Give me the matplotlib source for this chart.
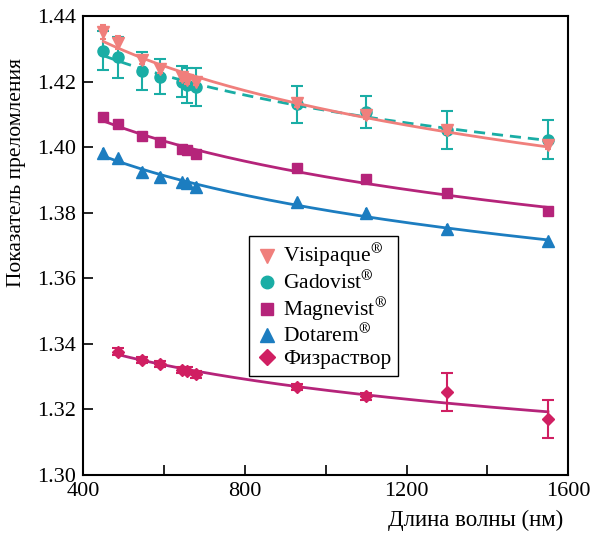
import numpy as np
import matplotlib
matplotlib.use('Agg')
import matplotlib.pyplot as plt
from matplotlib.lines import Line2D

# wavelengths, nm
wl = [450, 486, 546, 589, 644, 656, 680, 930, 1100, 1300, 1550]
wl_phys = [486, 546, 589, 644, 656, 680, 930, 1100, 1300, 1550]

# refractive indices
visipaque = [1.4352, 1.4319, 1.4266, 1.4238, 1.4215, 1.4205, 1.4200, 1.4134, 1.4099, 1.4051, 1.4007]
visipaque_err = [0.0022, 0.0020, 0.0012, 0.0012, 0.0012, 0.0012, 0.0012, 0.0012, 0.0012, 0.0012, 0.0012]
gadovist = [1.4294, 1.4274, 1.4233, 1.4215, 1.4200, 1.4188, 1.4182, 1.4130, 1.4106, 1.4053, 1.4023]
gadovist_err = [0.0060, 0.0062, 0.0058, 0.0053, 0.0048, 0.0054, 0.0058, 0.0055, 0.0049, 0.0058, 0.0059]
magnevist = [1.4092, 1.4071, 1.4033, 1.4017, 1.3995, 1.3990, 1.3980, 1.3936, 1.3904, 1.3860, 1.3804]
magnevist_err = [0.0008] * 11
dotarem = [1.3982, 1.3966, 1.3924, 1.3909, 1.3893, 1.3891, 1.3879, 1.3832, 1.3800, 1.3750, 1.3713]
dotarem_err = [0.0014] * 11
physio = [1.3376, 1.3351, 1.3338, 1.3320, 1.3318, 1.3307, 1.3268, 1.3240, 1.3253, 1.3172]
physio_err = [0.0010, 0.0010, 0.0010, 0.0010, 0.0010, 0.0010, 0.0010, 0.0010, 0.0058, 0.0058]

plt.rcParams['font.family'] = ['Liberation Serif', 'DejaVu Serif']
plt.rcParams['mathtext.fontset'] = 'stix'
plt.rcParams['font.size'] = 16


def disp_fit(x, y, xs):
    # least-squares fit n = A + B*ln(lambda)
    coef = np.polyfit(np.log(x), y, 1)
    return np.polyval(coef, np.log(xs))


fig = plt.figure(figsize=(5.9, 5.33), dpi=100)
ax = fig.add_axes([0.141, 0.109, 0.822, 0.861])

c_vis = '#f07f7c'
c_gad = '#1aada5'
c_mag = '#b5247a'
c_dot = '#1c7dc0'
c_phy = '#d01f62'

xs = np.linspace(450, 1550, 200)
xs_p = np.linspace(486, 1550, 200)

# fit curves
ax.plot(xs, disp_fit(wl, magnevist, xs), color=c_mag, lw=2.0, zorder=2)
ax.plot(xs, disp_fit(wl, dotarem, xs), color=c_dot, lw=2.0, zorder=2)
ax.plot(xs_p, disp_fit(wl_phys, physio, xs_p), color=c_mag, lw=2.0, zorder=2)
ax.plot(xs, disp_fit(wl, gadovist, xs), color=c_gad, lw=2.0, ls=(0, (4, 2.5)), zorder=2)
ax.plot(xs, disp_fit(wl, visipaque, xs), color=c_vis, lw=2.0, zorder=4)

ek = dict(elinewidth=1.5, capthick=1.5, ls='none')
ax.errorbar(wl, magnevist, yerr=magnevist_err, fmt='s', color=c_mag, ms=7, capsize=0, zorder=3, **ek)
ax.errorbar(wl, dotarem, yerr=dotarem_err, fmt='^', color=c_dot, ms=8, capsize=0, zorder=3, **ek)
ax.errorbar(wl_phys, physio, yerr=physio_err, fmt='D', color=c_phy, ms=6.5, capsize=4, zorder=3, **ek)
ax.errorbar(wl, gadovist, yerr=gadovist_err, fmt='o', color=c_gad, ms=8, capsize=4, zorder=3, **ek)
ax.errorbar(wl, visipaque, yerr=visipaque_err, fmt='v', color=c_vis, ms=8.5, capsize=2, zorder=5, **ek)

ax.set_xlim(400, 1600)
ax.set_ylim(1.30, 1.44)
ax.set_xticks([400, 600, 800, 1000, 1200, 1400, 1600])
ax.set_xticklabels(['400', '', '800', '', '1200', '', '1600'])
ax.set_yticks(np.arange(1.30, 1.4401, 0.02))
ax.set_yticklabels(['%.2f' % v for v in np.arange(1.30, 1.4401, 0.02)])
ax.tick_params(direction='in', length=7, width=1.2, labelsize=16, pad=5)
for s in ax.spines.values():
    s.set_linewidth(1.5)

ax.set_xlabel('Длина волны (нм)', fontsize=16.5, ha='right')
ax.xaxis.set_label_coords(0.99, -0.075)
ax.set_ylabel('Показатель преломления', fontsize=15.5)
ax.yaxis.set_label_coords(-0.118, 0.66)

handles = [
    Line2D([], [], ls='none', marker='v', color=c_vis, ms=10),
    Line2D([], [], ls='none', marker='o', color=c_gad, ms=9),
    Line2D([], [], ls='none', marker='s', color=c_mag, ms=8),
    Line2D([], [], ls='none', marker='^', color=c_dot, ms=10),
    Line2D([], [], ls='none', marker='D', color=c_phy, ms=8),
]
labels = [r'Visipaque$^{\circledR}$', r'Gadovist$^{\circledR}$', r'Magnevist$^{\circledR}$',
          r'Dotarem$^{\circledR}$', 'Физраствор']
leg = ax.legend(handles, labels, loc='upper left', bbox_to_anchor=(0.342, 0.521),
                borderaxespad=0, fontsize=15.5, frameon=True, fancybox=False,
                edgecolor='black', framealpha=1, handletextpad=0.2, handlelength=1.1,
                borderpad=0.3, labelspacing=0.05)
leg.get_frame().set_linewidth(1.0)

fig.savefig('out.png', dpi=100)
